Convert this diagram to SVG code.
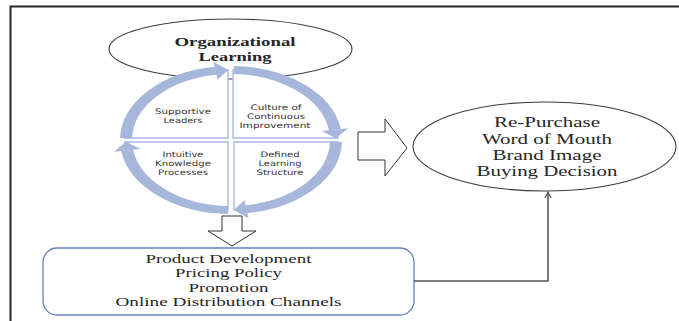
<svg xmlns="http://www.w3.org/2000/svg" width="679" height="321" viewBox="0 0 679 321">
  <style>
    .frame { stroke: #262626; stroke-width: 2; fill: none; }
    .oval { fill: #ffffff; stroke: #3c3c3c; stroke-width: 1.1; }
    .quad { fill: #ffffff; stroke: #a9b9dc; stroke-width: 1.4; }
    .ring { fill: none; stroke: #a7b7db; stroke-width: 8; }
    .head { fill: #a7b7db; }
    .block { fill: #ffffff; stroke: #333333; stroke-width: 1; }
    .box { fill: #ffffff; stroke: #6783bf; stroke-width: 1.3; }
    .link { fill: none; stroke: #5a5a5a; stroke-width: 1.6; }
    .serif { font-family: "Liberation Serif", "Times New Roman", serif; fill: #262626; text-anchor: middle; }
    .bold { font-weight: bold; font-size: 12.5px; }
    .big { font-size: 14px; }
    .mid { font-size: 12.5px; }
    .sans { font-family: "DejaVu Sans", "Open Sans", sans-serif; font-size: 7.6px; fill: #333333; text-anchor: middle; }
  </style>
  <defs>
    <marker id="openTip" viewBox="0 0 8 8" refX="7" refY="4" markerWidth="8" markerHeight="8" markerUnits="userSpaceOnUse" orient="auto">
      <path d="M1,1 L7,4 L1,7" fill="none" stroke="#5a5a5a" stroke-width="1.2"/>
    </marker>
  </defs>

  <!-- page frame: top and left rules -->
  <path class="frame" d="M10.5,321 V6.5 H679"/>

  <!-- top oval -->
  <g id="organizational-learning">
    <ellipse class="oval" cx="230.5" cy="49" rx="121.5" ry="30"/>
    <text class="serif bold" x="235" y="46" textLength="121" lengthAdjust="spacingAndGlyphs">Organizational</text>
    <text class="serif bold" x="235" y="61" textLength="73" lengthAdjust="spacingAndGlyphs">Learning</text>
  </g>

  <!-- four quadrants of the learning cycle -->
  <g id="supportive-leaders">
    <path class="quad" d="M228,138 V70 A103 68 0 0 0 125,138 Z"/>
    <text class="sans" x="183" y="114" textLength="56" lengthAdjust="spacingAndGlyphs">Supportive</text>
    <text class="sans" x="183" y="123" textLength="39" lengthAdjust="spacingAndGlyphs">Leaders</text>
  </g>
  <g id="culture-of-continuous-improvement">
    <path class="quad" d="M233,138 V70 A105 68 0 0 1 338,138 Z"/>
    <text class="sans" x="276" y="110" textLength="51" lengthAdjust="spacingAndGlyphs">Culture of</text>
    <text class="sans" x="276" y="119" textLength="58" lengthAdjust="spacingAndGlyphs">Continuous</text>
    <text class="sans" x="275" y="128" textLength="71" lengthAdjust="spacingAndGlyphs">Improvement</text>
  </g>
  <g id="defined-learning-structure">
    <path class="quad" d="M234,142 H338 A104 68 0 0 1 234,210 Z"/>
    <text class="sans" x="280" y="157" textLength="39" lengthAdjust="spacingAndGlyphs">Defined</text>
    <text class="sans" x="280" y="166" textLength="43" lengthAdjust="spacingAndGlyphs">Learning</text>
    <text class="sans" x="280" y="175" textLength="47" lengthAdjust="spacingAndGlyphs">Structure</text>
  </g>
  <g id="intuitive-knowledge-processes">
    <path class="quad" d="M228,142 V210 A103 68 0 0 1 125,142 Z"/>
    <text class="sans" x="183" y="157" textLength="41" lengthAdjust="spacingAndGlyphs">Intuitive</text>
    <text class="sans" x="183" y="166" textLength="56" lengthAdjust="spacingAndGlyphs">Knowledge</text>
    <text class="sans" x="183" y="175" textLength="50" lengthAdjust="spacingAndGlyphs">Processes</text>
  </g>

  <!-- outcome oval -->
  <g id="outcomes">
    <ellipse class="oval" cx="544.5" cy="146.5" rx="131.5" ry="44.5"/>
    <text class="serif big" x="547" y="127" textLength="106" lengthAdjust="spacingAndGlyphs">Re-Purchase</text>
    <text class="serif big" x="547" y="143.5" textLength="130" lengthAdjust="spacingAndGlyphs">Word of Mouth</text>
    <text class="serif big" x="547" y="160" textLength="109" lengthAdjust="spacingAndGlyphs">Brand Image</text>
    <text class="serif big" x="547" y="176" textLength="141" lengthAdjust="spacingAndGlyphs">Buying Decision</text>
  </g>

  <!-- marketing mix box -->
  <g id="marketing-mix">
    <rect class="box" x="43" y="248" width="371" height="67" rx="14" ry="14"/>
    <text class="serif mid" x="228.5" y="263" textLength="166" lengthAdjust="spacingAndGlyphs">Product Development</text>
    <text class="serif mid" x="228.5" y="277" textLength="107" lengthAdjust="spacingAndGlyphs">Pricing Policy</text>
    <text class="serif mid" x="228.5" y="292" textLength="80" lengthAdjust="spacingAndGlyphs">Promotion</text>
    <text class="serif mid" x="228.5" y="306" textLength="226" lengthAdjust="spacingAndGlyphs">Online Distribution Channels</text>
  </g>

  <g id="connectors">
    <!-- clockwise cycle arrows, drawn on a unit circle stretched sideways -->
    <g transform="translate(231,140) scale(1.5,1)">
      <path class="ring" d="M-69.98,-1.83 A70 70 0 0 1 -10.35,-69.23"/>
      <polygon class="head" points="-9.02,-60.33 -11.68,-78.13 -1.83,-69.98"/>
      <path class="ring" d="M1.83,-69.98 A70 70 0 0 1 69.23,-10.35"/>
      <polygon class="head" points="60.33,-9.02 78.13,-11.68 69.98,-1.83"/>
      <path class="ring" d="M69.98,1.83 A70 70 0 0 1 10.35,69.23"/>
      <polygon class="head" points="9.02,60.33 11.68,78.13 1.83,69.98"/>
      <path class="ring" d="M-1.83,69.98 A70 70 0 0 1 -69.23,10.35"/>
      <polygon class="head" points="-60.33,9.02 -78.13,11.68 -69.98,1.83"/>
    </g>
    <!-- hollow block arrows -->
    <polygon class="block" points="358,132 385,132 385,119 407,148 385,176 385,160 358,160"/>
    <polygon class="block" points="222,216 242,216 242,231 256,231 232,246 208,231 222,231"/>
    <!-- box to outcome oval -->
    <path class="link" d="M414,281 H548 V192" marker-end="url(#openTip)"/>
  </g>
</svg>
